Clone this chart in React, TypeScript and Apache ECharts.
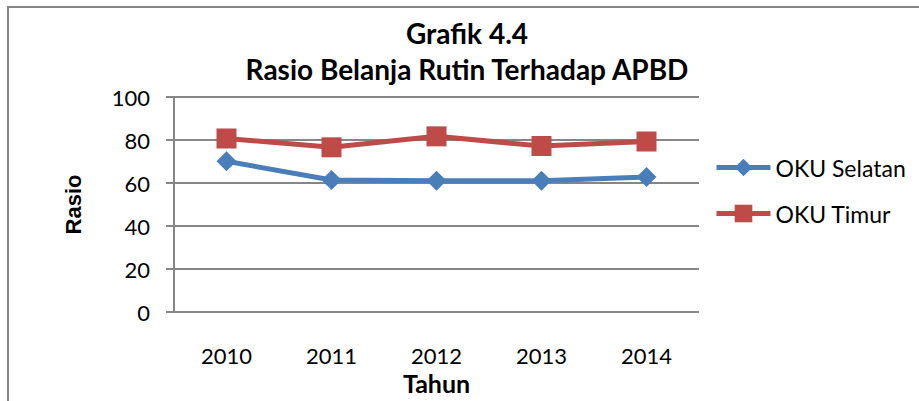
import React, { useEffect, useRef } from "react";
import * as echarts from "echarts";

const categories = ["2010", "2011", "2012", "2013", "2014"];
const okuSelatan = [70.1, 61.4, 61.1, 61.1, 62.8];
const okuTimur = [80.7, 76.6, 81.7, 77.2, 79.3];
const seriesNames = ["OKU Selatan", "OKU Timur"];
const titleLines = ["Grafik 4.4", "Rasio Belanja Rutin Terhadap APBD"];
const yAxisName = "Rasio";
const xAxisName = "Tahun";

const FONT = "Lato, 'Noto Sans', sans-serif";
const GRAY = "#868686";

export default function App() {
  const ref = useRef<HTMLDivElement>(null);
  useEffect(() => {
    if (!ref.current) return;
    const chart = echarts.init(ref.current, null, { renderer: "svg" });
    chart.setOption({
      animation: false,
      backgroundColor: "#ffffff",
      textStyle: { fontFamily: FONT },
      graphic: [
        {
          type: "rect",
          shape: { x: 8, y: 7, width: 1000, height: 500 },
          style: { fill: "none", stroke: GRAY, lineWidth: 2 },
          silent: true,
        },
        {
          type: "text",
          x: 467,
          y: 33,
          style: {
            text: titleLines[0],
            fontFamily: FONT,
            fontWeight: "bold",
            fontSize: 28,
            fill: "#000",
            textAlign: "center",
            textVerticalAlign: "middle",
          },
        },
        {
          type: "text",
          x: 467,
          y: 69,
          style: {
            text: titleLines[1],
            fontFamily: FONT,
            fontWeight: "bold",
            fontSize: 28,
            fill: "#000",
            textAlign: "center",
            textVerticalAlign: "middle",
          },
        },
      ],
      grid: {
        left: 174,
        right: 220,
        top: 97,
        bottom: 89,
        containLabel: false,
        outerBoundsMode: "none",
      },
      legend: {
        orient: "vertical",
        left: 714,
        top: 156,
        padding: 0,
        itemWidth: 54,
        itemHeight: 22,
        itemGap: 23,
        lineStyle: { width: 5 },
        textStyle: { fontSize: 23, color: "#000", fontFamily: FONT },
        data: seriesNames,
      },
      xAxis: {
        type: "category",
        data: categories,
        boundaryGap: true,
        name: xAxisName,
        nameLocation: "middle",
        nameGap: 58,
        nameTextStyle: { fontSize: 25, fontWeight: "bold", color: "#000", fontFamily: FONT },
        axisLine: { show: false },
        axisTick: { show: false },
        axisLabel: { fontSize: 22, color: "#000", margin: 32, fontFamily: FONT },
        splitLine: { show: false },
      },
      yAxis: {
        type: "value",
        min: 0,
        max: 100,
        interval: 20,
        name: yAxisName,
        nameLocation: "middle",
        nameRotate: 90,
        nameGap: 90,
        nameTextStyle: {
          fontSize: 22,
          fontWeight: "bold",
          color: "#000",
          fontFamily: "'Liberation Sans', Arial, sans-serif",
        },
        axisLine: { show: true, lineStyle: { color: GRAY, width: 2 } },
        axisTick: { show: true, length: 8, lineStyle: { color: GRAY, width: 2 } },
        axisLabel: { fontSize: 22, color: "#000", margin: 24, fontFamily: FONT },
        splitLine: { show: true, lineStyle: { color: GRAY, width: 2 } },
      },
      series: [
        {
          name: seriesNames[0],
          type: "line",
          data: okuSelatan,
          symbol: "diamond",
          symbolSize: 20,
          lineStyle: { color: "#4A7EBB", width: 5 },
          itemStyle: { color: "#4A7EBB" },
        },
        {
          name: seriesNames[1],
          type: "line",
          data: okuTimur,
          symbol: "rect",
          symbolSize: 20,
          lineStyle: { color: "#BE4B48", width: 5 },
          itemStyle: { color: "#BE4B48" },
        },
      ],
    });
    return () => chart.dispose();
  }, []);
  return (
    <div
      ref={ref}
      style={{ position: "fixed", left: 0, top: 0, width: 919, height: 401 }}
    />
  );
}
